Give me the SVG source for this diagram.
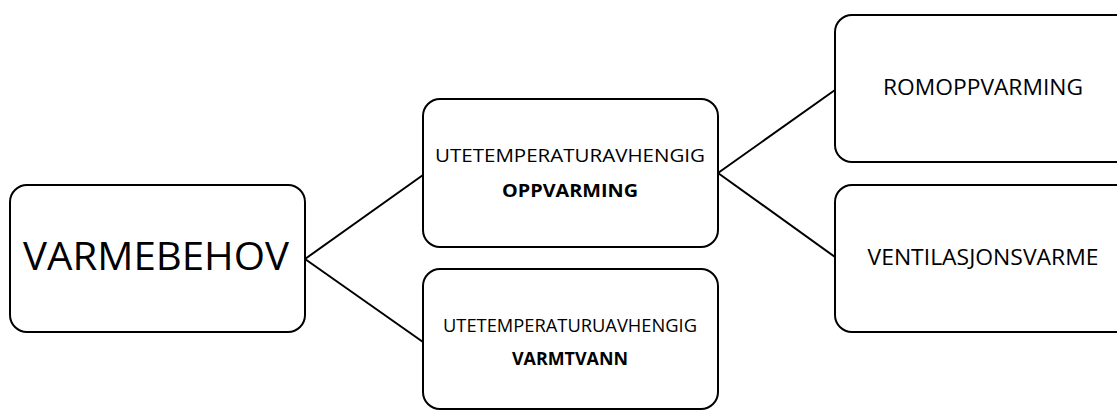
<svg xmlns="http://www.w3.org/2000/svg" width="1117" height="412" viewBox="0 0 1117 412">
<style>
.box{fill:#fff;stroke:#000;stroke-width:2}
.lnk{stroke:#000;stroke-width:2;fill:none}
text{font-family:"Open Sans","Liberation Sans",sans-serif;fill:#000;text-anchor:middle}
.b{font-weight:bold}
</style>
<rect width="1117" height="412" fill="#fff"/>
<g id="connectors">
<line class="lnk" x1="305" y1="259" x2="423" y2="175"/>
<line class="lnk" x1="305" y1="259" x2="423" y2="342"/>
<line class="lnk" x1="718" y1="173" x2="835" y2="90"/>
<line class="lnk" x1="718" y1="173" x2="835" y2="257"/>
</g>
<g id="n-varmebehov">
<rect class="box" x="10" y="185" width="295" height="147" rx="17"/>
<text x="156" y="270" font-size="39" textLength="266" lengthAdjust="spacingAndGlyphs">VARMEBEHOV</text>
</g>
<g id="n-oppvarming">
<rect class="box" x="423" y="99" width="295" height="148" rx="17"/>
<text x="570" y="162" font-size="19" textLength="270" lengthAdjust="spacingAndGlyphs">UTETEMPERATURAVHENGIG</text>
<text class="b" x="570" y="197" font-size="18" textLength="136" lengthAdjust="spacingAndGlyphs">OPPVARMING</text>
</g>
<g id="n-varmtvann">
<rect class="box" x="423" y="269" width="295" height="140" rx="17"/>
<text x="570" y="332" font-size="17.5" textLength="254" lengthAdjust="spacingAndGlyphs">UTETEMPERATURUAVHENGIG</text>
<text class="b" x="570" y="365" font-size="17" textLength="116" lengthAdjust="spacingAndGlyphs">VARMTVANN</text>
</g>
<g id="n-romoppvarming">
<rect class="box" x="835" y="15" width="300" height="147" rx="17"/>
<text x="983" y="95" font-size="21" textLength="200" lengthAdjust="spacingAndGlyphs">ROMOPPVARMING</text>
</g>
<g id="n-ventilasjonsvarme">
<rect class="box" x="835" y="185" width="300" height="147" rx="17"/>
<text x="983" y="265" font-size="21" textLength="231" lengthAdjust="spacingAndGlyphs">VENTILASJONSVARME</text>
</g>
</svg>
